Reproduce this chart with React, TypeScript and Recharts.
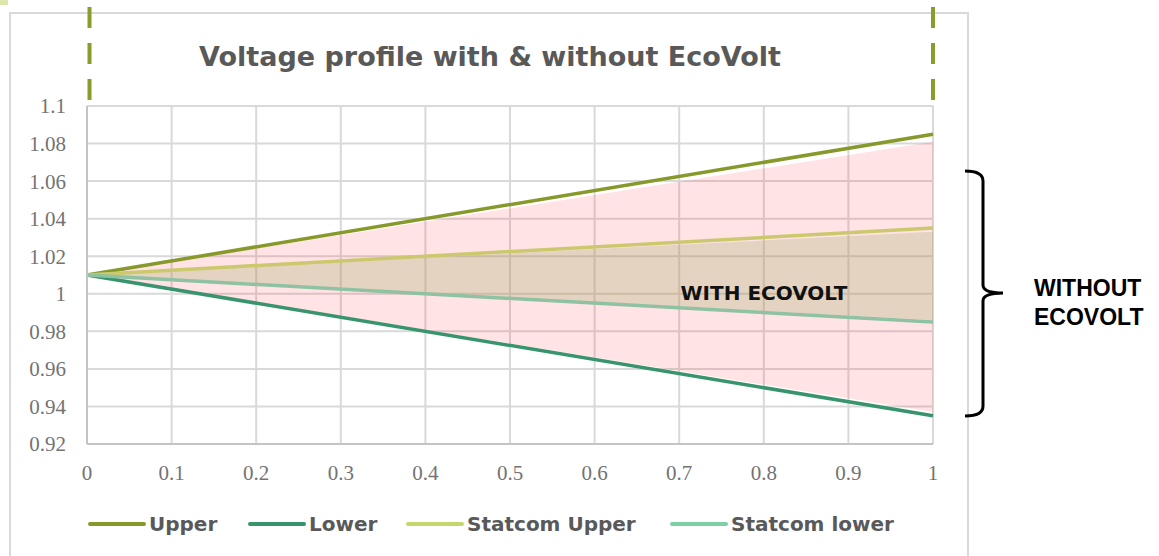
import React from 'react';
import { ComposedChart, Line, Area, XAxis, YAxis, CartesianGrid } from 'recharts';

// Data (x = position along feeder, y = voltage p.u.)
const positions = [0, 1];
const upper = [1.01, 1.085];
const lower = [1.01, 0.935];
const statcomUpper = [1.01, 1.035];
const statcomLower = [1.01, 0.985];
const withoutBandTop = [1.01, 1.081];
const withoutBandBottom = [1.01, 0.937];
const withBandTop = [1.01, 1.033];
const withBandBottom = [1.01, 0.986];

const xTicks = [0, 0.1, 0.2, 0.3, 0.4, 0.5, 0.6, 0.7, 0.8, 0.9, 1];
const yTicks = [0.92, 0.94, 0.96, 0.98, 1, 1.02, 1.04, 1.06, 1.08, 1.1];

const seriesNames = ['Upper', 'Lower', 'Statcom Upper', 'Statcom lower'];
const lineColors = ['#87992a', '#38946c', '#ccc86e', '#8fc2a2'];
const legendColors = ['#87992a', '#38946c', '#c4d66c', '#7ecea6'];

const data = positions.map((x, i) => ({
  x,
  upper: upper[i],
  lower: lower[i],
  statcomUpper: statcomUpper[i],
  statcomLower: statcomLower[i],
  without: [withoutBandBottom[i], withoutBandTop[i]],
  withEco: [withBandBottom[i], withBandTop[i]],
}));

const legendX = [90, 250, 408, 672];

export default function App() {
  const tickStyle = { fontFamily: '"Liberation Serif", serif', fontSize: 21, fill: '#737373' };
  return (
    <div style={{ position: 'absolute', left: 0, top: 0, width: 1159, height: 556, background: '#fff' }}>
      <svg width={1159} height={556} style={{ position: 'absolute', left: 0, top: 0 }}>
        <rect x={0} y={0} width={8} height={5} fill="#dde7ad" />
        <rect x={10} y={13} width={958} height={600} fill="none" stroke="#d9d9d9" strokeWidth={2} />
      </svg>
      <div style={{ position: 'absolute', left: 0, top: 0 }}>
        <ComposedChart
          width={1159}
          height={556}
          data={data}
          margin={{ top: 106, right: 226, bottom: 72, left: 27 }}
        >
          <CartesianGrid stroke="#d9d9d9" strokeWidth={2} verticalValues={xTicks} horizontalValues={yTicks} />
          <XAxis
            type="number"
            dataKey="x"
            domain={[0, 1]}
            ticks={xTicks}
            height={40}
            tickLine={false}
            tickSize={0}
            tickMargin={21}
            axisLine={{ stroke: '#c4c4c4', strokeWidth: 2 }}
            tick={tickStyle}
            interval={0}
          />
          <YAxis
            type="number"
            domain={[0.92, 1.1]}
            ticks={yTicks}
            width={60}
            tickLine={false}
            tickSize={0}
            tickMargin={21}
            axisLine={{ stroke: '#c4c4c4', strokeWidth: 2 }}
            tick={tickStyle}
            interval={0}
          />
          <Area
            type="linear"
            dataKey="without"
            stroke="none"
            fill="#ff1a2a"
            fillOpacity={0.12}
            isAnimationActive={false}
          />
          <Area
            type="linear"
            dataKey="withEco"
            stroke="none"
            fill="#a5b16a"
            fillOpacity={0.3}
            isAnimationActive={false}
          />
          <Line type="linear" dataKey="upper" stroke={lineColors[0]} strokeWidth={3.5} dot={false} isAnimationActive={false} />
          <Line type="linear" dataKey="lower" stroke={lineColors[1]} strokeWidth={3.5} dot={false} isAnimationActive={false} />
          <Line type="linear" dataKey="statcomUpper" stroke={lineColors[2]} strokeWidth={3.5} dot={false} isAnimationActive={false} />
          <Line type="linear" dataKey="statcomLower" stroke={lineColors[3]} strokeWidth={3.5} dot={false} isAnimationActive={false} />
        </ComposedChart>
      </div>
      <svg width={1159} height={556} style={{ position: 'absolute', left: 0, top: 0, pointerEvents: 'none' }}>
        <line x1={89.5} y1={7} x2={89.5} y2={100} stroke="#8a9c2b" strokeWidth={4} strokeDasharray="21 15" />
        <line x1={933} y1={7} x2={933} y2={100} stroke="#8a9c2b" strokeWidth={4} strokeDasharray="21 15" />
        <text x={490} y={66} textAnchor="middle" fontFamily='"DejaVu Sans", sans-serif' fontWeight="bold" fontSize={27} fill="#595959">
          Voltage profile with &amp; without EcoVolt
        </text>
        <text x={764} y={300} textAnchor="middle" fontFamily='"DejaVu Sans", sans-serif' fontWeight="bold" fontSize={20} fill="#111">
          WITH ECOVOLT
        </text>
        <path
          d="M965,171 Q983,171 983,181 L983,285 Q983,293 1003,293 Q983,293 983,301 L983,406 Q983,416 965,416"
          fill="none"
          stroke="#000"
          strokeWidth={3}
        />
        <text x={1034} y={296} fontFamily='"Liberation Sans", Arial, sans-serif' fontWeight="bold" fontSize={23} fill="#000">
          WITHOUT
        </text>
        <text x={1034} y={325} fontFamily='"Liberation Sans", Arial, sans-serif' fontWeight="bold" fontSize={23} fill="#000">
          ECOVOLT
        </text>
        {seriesNames.map((name, i) => (
          <g key={name}>
            <line x1={legendX[i]} y1={524} x2={legendX[i] + 54} y2={524} stroke={legendColors[i]} strokeWidth={4} strokeLinecap="round" />
            <text x={legendX[i] + 59} y={531} fontFamily='"DejaVu Sans", sans-serif' fontWeight="bold" fontSize={20} fill="#595959">
              {name}
            </text>
          </g>
        ))}
      </svg>
    </div>
  );
}
